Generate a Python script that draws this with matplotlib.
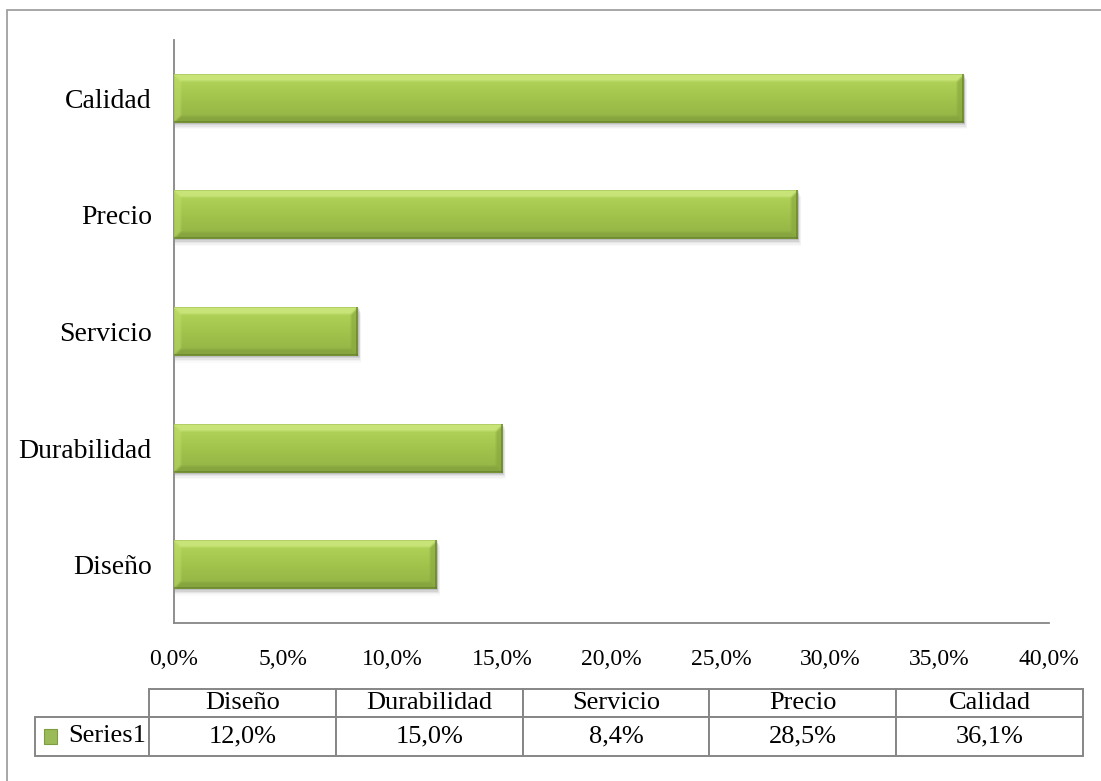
import numpy as np
import matplotlib.pyplot as plt
from matplotlib.patches import Rectangle
from matplotlib.colors import to_rgb
from matplotlib.ticker import FuncFormatter

# categorías y porcentajes (de abajo hacia arriba)
categorias = ["Diseño", "Durabilidad", "Servicio", "Precio", "Calidad"]
valores = [12.0, 15.0, 8.4, 28.5, 36.1]
serie = "Series1"
ticks_x = [0, 5, 10, 15, 20, 25, 30, 35, 40]

plt.rcParams['font.family'] = ['Liberation Serif', 'DejaVu Serif']

W, H = 1101, 781
fig = plt.figure(figsize=(W / 100, H / 100), dpi=100)
ax = fig.add_axes([174 / W, 1 - 623 / H, 875 / W, 583 / H])

gris = "#868686"
ALTO = 0.42


def pct(v, pos=None):
    return f"{v:.1f}%".replace(".", ",")


def suavizar(img, r=1):
    # desenfoque de caja sencillo para ablandar los bordes del bisel
    out = img.copy()
    for eje in (0, 1):
        acc = np.zeros_like(out)
        for d in range(-r, r + 1):
            acc += np.roll(out, d, axis=eje)
        out = acc / (2 * r + 1)
    return out


def textura_barra(nx, ny, bev=7):
    """Degradado verde con biselado en los cuatro lados (en píxeles)."""
    arriba = np.array(to_rgb("#b4d65c"))
    medio = np.array(to_rgb("#a2c44c"))
    abajo = np.array(to_rgb("#92b244"))
    t = np.linspace(0, 1, ny)[:, None]
    perfil = np.where(t < 0.5, arriba + (medio - arriba) * (t / 0.5),
                      medio + (abajo - medio) * ((t - 0.5) / 0.5))
    img = np.repeat(perfil[:, None, :], nx, axis=1)
    yy, xx = np.mgrid[0:ny, 0:nx]
    d_sup = yy
    d_inf = ny - 1 - yy
    d_izq = xx
    d_der = nx - 1 - xx
    dmin = np.minimum.reduce([d_sup, d_inf, d_izq, d_der])
    en_bisel = dmin < bev
    sup = en_bisel & (d_sup == dmin)
    inf = en_bisel & (d_inf == dmin) & ~sup
    der = en_bisel & (d_der == dmin) & ~sup & ~inf
    izq = en_bisel & (d_izq == dmin) & ~sup & ~inf & ~der

    def mezcla(mask, color, f):
        img[mask] = img[mask] * (1 - f) + np.array(to_rgb(color)) * f

    mezcla(sup, "#d2ec86", 0.7)
    mezcla(inf, "#7f9c3b", 0.6)
    mezcla(der, "#86a43d", 0.6)
    mezcla(izq, "#c0de6e", 0.5)
    img = suavizar(img, 1)
    # filo exterior
    img[-2:, :] = img[-2:, :] * 0.4 + np.array(to_rgb("#5f7a28")) * 0.6
    img[:, -2:] = img[:, -2:] * 0.4 + np.array(to_rgb("#5f7a28")) * 0.6
    return np.clip(img, 0, 1)


ax.barh(range(len(categorias)), valores, height=ALTO, color="none", zorder=2)
for i, v in enumerate(valores):
    nx = max(int(v / 40 * 875), 2)
    ny = 49
    # sombra suave bajo la barra
    for k, a in enumerate([0.10, 0.07, 0.05, 0.03, 0.02]):
        ax.add_patch(Rectangle((0.05, i - ALTO / 2 - 0.008 - 0.012 * k), v + 0.03 * k, ALTO,
                               facecolor="black", edgecolor="none", alpha=a, zorder=1))
    ax.imshow(textura_barra(nx, ny), extent=[0, v, i - ALTO / 2, i + ALTO / 2],
              aspect="auto", interpolation="bilinear", zorder=3, origin="upper")

ax.set_xlim(0, 40)
ax.set_ylim(-0.5, len(categorias) - 0.5)
ax.set_xticks(ticks_x)
ax.xaxis.set_major_formatter(FuncFormatter(pct))
ax.set_yticks(range(len(categorias)))
ax.set_yticklabels(categorias)
ax.tick_params(axis="x", length=0, pad=19, labelsize=17)
ax.tick_params(axis="y", length=0, pad=16, labelsize=20)
for s in ["top", "right"]:
    ax.spines[s].set_visible(False)
for s in ["left", "bottom"]:
    ax.spines[s].set_color(gris)
    ax.spines[s].set_linewidth(1.3)

# tabla de datos bajo el eje
celdas = [[serie] + [pct(v) for v in valores]]
tabla = ax.table(cellText=celdas, colLabels=[""] + categorias,
                 bbox=[(35 - 174) / 875, (623 - 756) / 583, (1083 - 35) / 875, (756 - 689) / 583],
                 cellLoc="center")
tabla.auto_set_font_size(False)
anchos = [114] + [187] * len(categorias)
for (r, c), cell in tabla.get_celld().items():
    cell.set_width(anchos[c])
    cell.set_height(28 if r == 0 else 39)
    cell.set_edgecolor(gris)
    cell.set_linewidth(1.4)
    cell.get_text().set_fontsize(19)
tabla[(0, 0)].visible_edges = ""
tabla[(1, 0)].get_text().set_horizontalalignment("right")
tabla[(1, 0)].PAD = 0.02

# marcador de la serie
fig.add_artist(Rectangle((44 / W, 1 - 744 / H), 13 / W, 15 / H, transform=fig.transFigure,
                         facecolor="#9bbb59", edgecolor="#7e9c40", linewidth=0.8))

# marco del gráfico
fig.add_artist(Rectangle((7 / W, -0.1), 1.2, 1.1 - 10 / H, transform=fig.transFigure,
                         facecolor="none", edgecolor="#a0a0a0", linewidth=1.3))

fig.savefig("out.png", dpi=100)
